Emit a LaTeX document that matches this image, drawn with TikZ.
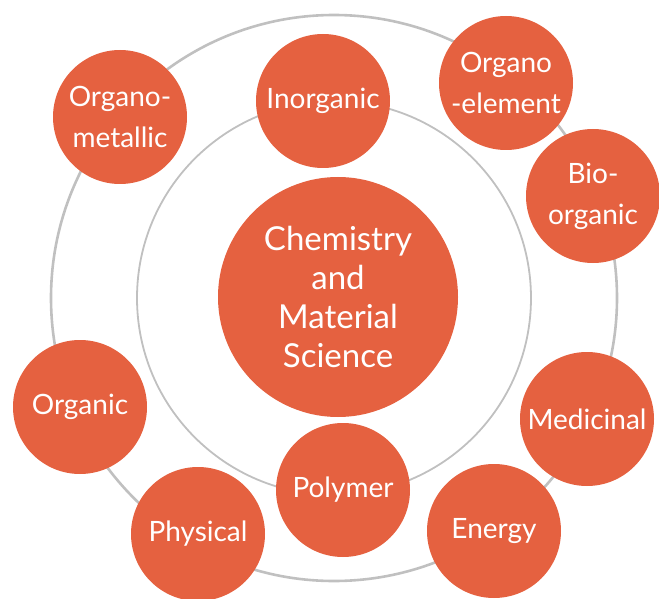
\documentclass[tikz,border=0pt]{standalone}
\usepackage{fontspec}
\setmainfont{Lato}
\usepackage{tikz}
\definecolor{ringgray}{RGB}{192,192,192}
\definecolor{topicorange}{RGB}{229,97,64}
\tikzset{
  topic/.style={circle, fill=topicorange, text=white, minimum size=134pt, inner sep=0pt, align=center, font=\fontsize{28}{41}\selectfont},
  core/.style={topic, minimum size=240pt, font=\fontsize{33}{39}\selectfont}
}

\begin{document}
\begin{tikzpicture}[x=1pt, y=-1pt]
	% Bildbereich
	\useasboundingbox (0,0) rectangle (659,599);
	% Ringe
	\coordinate (mid) at (334,298);
	\draw[ringgray, line width=2.6pt] (mid) circle (283pt);
	\draw[ringgray, line width=1.8pt] (mid) circle (197pt);
	% Kern
	\node[core] (chem) at (338,297) {Chemistry\\and\\Material\\Science};
	% Innerer Ring
	\node[topic] (inorg) at (323,101) {Inorganic};
	\node[topic] (poly) at (343,490) {Polymer};
	% Aeusserer Ring
	\node[topic] (orgmet) at (120,117) {Organo-\\metallic};
	\node[topic] (orgel) at (506,83) {Organo\\-element};
	\node[topic] (bioorg) at (593,196) {Bio-\\organic};
	\node[topic] (med) at (587,419) {Medicinal};
	\node[topic] (energy) at (494,531) {Energy};
	\node[topic] (phys) at (198,534) {Physical};
	\node[topic] (org) at (80,407) {Organic};
\end{tikzpicture}
\end{document}
